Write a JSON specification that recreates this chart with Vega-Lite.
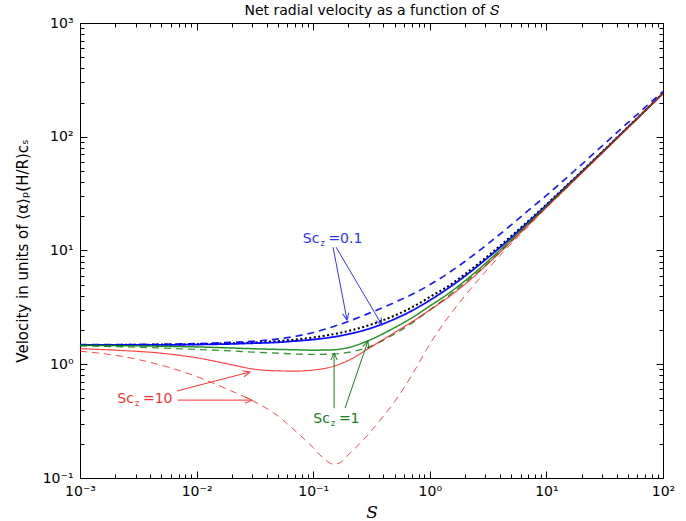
{
  "$schema": "https://vega.github.io/schema/vega-lite/v6.json",
  "width": 583,
  "height": 455,
  "autosize": "none",
  "padding": {"left": 80, "top": 23, "right": 23, "bottom": 43},
  "background": "white",
  "config": {
    "view": {"stroke": null},
    "font": "DejaVu Sans",
    "axis": {"grid": false, "domainColor": "black", "tickColor": "black", "labelColor": "black", "labelFont": "DejaVu Sans", "labelFontSize": 13, "titleColor": "black"}
  },
  "title": {"text": "Net radial velocity as a function of 𝑆", "fontSize": 14, "fontWeight": "normal", "font": "DejaVu Sans", "offset": -2, "color": "black"},
  "resolve": {"scale": {"color": "independent"}},
  "datasets": {
    "curves": [
      {"series": "ref", "S": 0.001, "v": 1.48}, {"series": "ref", "S": 0.002, "v": 1.48}, {"series": "ref", "S": 0.005, "v": 1.49}, {"series": "ref", "S": 0.01, "v": 1.5}, {"series": "ref", "S": 0.02, "v": 1.53}, {"series": "ref", "S": 0.03, "v": 1.55}, {"series": "ref", "S": 0.05, "v": 1.6}, {"series": "ref", "S": 0.07, "v": 1.65}, {"series": "ref", "S": 0.1, "v": 1.72}, {"series": "ref", "S": 0.15, "v": 1.84}, {"series": "ref", "S": 0.2, "v": 1.96}, {"series": "ref", "S": 0.3, "v": 2.2}, {"series": "ref", "S": 0.5, "v": 2.68}, {"series": "ref", "S": 0.7, "v": 3.16}, {"series": "ref", "S": 1, "v": 3.9}, {"series": "ref", "S": 1.5, "v": 5.0}, {"series": "ref", "S": 2, "v": 6.2}, {"series": "ref", "S": 3, "v": 8.6}, {"series": "ref", "S": 5, "v": 13.4}, {"series": "ref", "S": 7, "v": 18.2}, {"series": "ref", "S": 10, "v": 25.4}, {"series": "ref", "S": 20, "v": 49.5}, {"series": "ref", "S": 50, "v": 121.5}, {"series": "ref", "S": 100, "v": 241.5},
      {"series": "b_solid", "S": 0.001, "v": 1.48}, {"series": "b_solid", "S": 0.002, "v": 1.48}, {"series": "b_solid", "S": 0.005, "v": 1.48}, {"series": "b_solid", "S": 0.01, "v": 1.49}, {"series": "b_solid", "S": 0.02, "v": 1.51}, {"series": "b_solid", "S": 0.03, "v": 1.53}, {"series": "b_solid", "S": 0.05, "v": 1.56}, {"series": "b_solid", "S": 0.07, "v": 1.6}, {"series": "b_solid", "S": 0.1, "v": 1.65}, {"series": "b_solid", "S": 0.15, "v": 1.74}, {"series": "b_solid", "S": 0.2, "v": 1.84}, {"series": "b_solid", "S": 0.3, "v": 2.05}, {"series": "b_solid", "S": 0.5, "v": 2.5}, {"series": "b_solid", "S": 0.7, "v": 2.95}, {"series": "b_solid", "S": 1, "v": 3.65}, {"series": "b_solid", "S": 1.5, "v": 4.8}, {"series": "b_solid", "S": 2, "v": 5.95}, {"series": "b_solid", "S": 3, "v": 8.3}, {"series": "b_solid", "S": 5, "v": 13.0}, {"series": "b_solid", "S": 7, "v": 17.8}, {"series": "b_solid", "S": 10, "v": 25.0}, {"series": "b_solid", "S": 20, "v": 49.0}, {"series": "b_solid", "S": 50, "v": 121}, {"series": "b_solid", "S": 100, "v": 241},
      {"series": "b_dash", "S": 0.001, "v": 1.49}, {"series": "b_dash", "S": 0.002, "v": 1.49}, {"series": "b_dash", "S": 0.005, "v": 1.5}, {"series": "b_dash", "S": 0.01, "v": 1.52}, {"series": "b_dash", "S": 0.02, "v": 1.56}, {"series": "b_dash", "S": 0.03, "v": 1.59}, {"series": "b_dash", "S": 0.05, "v": 1.67}, {"series": "b_dash", "S": 0.07, "v": 1.76}, {"series": "b_dash", "S": 0.1, "v": 1.9}, {"series": "b_dash", "S": 0.15, "v": 2.15}, {"series": "b_dash", "S": 0.2, "v": 2.38}, {"series": "b_dash", "S": 0.3, "v": 2.8}, {"series": "b_dash", "S": 0.5, "v": 3.5}, {"series": "b_dash", "S": 0.7, "v": 4.1}, {"series": "b_dash", "S": 1, "v": 5.0}, {"series": "b_dash", "S": 1.5, "v": 6.5}, {"series": "b_dash", "S": 2, "v": 8.0}, {"series": "b_dash", "S": 3, "v": 11.0}, {"series": "b_dash", "S": 5, "v": 16.8}, {"series": "b_dash", "S": 7, "v": 22.5}, {"series": "b_dash", "S": 10, "v": 30.5}, {"series": "b_dash", "S": 20, "v": 57}, {"series": "b_dash", "S": 50, "v": 133}, {"series": "b_dash", "S": 100, "v": 250},
      {"series": "g_solid", "S": 0.001, "v": 1.47}, {"series": "g_solid", "S": 0.002, "v": 1.46}, {"series": "g_solid", "S": 0.005, "v": 1.44}, {"series": "g_solid", "S": 0.01, "v": 1.42}, {"series": "g_solid", "S": 0.02, "v": 1.39}, {"series": "g_solid", "S": 0.03, "v": 1.37}, {"series": "g_solid", "S": 0.05, "v": 1.35}, {"series": "g_solid", "S": 0.07, "v": 1.34}, {"series": "g_solid", "S": 0.1, "v": 1.33}, {"series": "g_solid", "S": 0.15, "v": 1.34}, {"series": "g_solid", "S": 0.2, "v": 1.4}, {"series": "g_solid", "S": 0.3, "v": 1.62}, {"series": "g_solid", "S": 0.5, "v": 2.1}, {"series": "g_solid", "S": 0.7, "v": 2.55}, {"series": "g_solid", "S": 1, "v": 3.25}, {"series": "g_solid", "S": 1.5, "v": 4.3}, {"series": "g_solid", "S": 2, "v": 5.4}, {"series": "g_solid", "S": 3, "v": 7.7}, {"series": "g_solid", "S": 5, "v": 12.5}, {"series": "g_solid", "S": 7, "v": 17.3}, {"series": "g_solid", "S": 10, "v": 24.5}, {"series": "g_solid", "S": 20, "v": 48.5}, {"series": "g_solid", "S": 50, "v": 120.5}, {"series": "g_solid", "S": 100, "v": 240},
      {"series": "g_dash", "S": 0.001, "v": 1.45}, {"series": "g_dash", "S": 0.002, "v": 1.43}, {"series": "g_dash", "S": 0.005, "v": 1.39}, {"series": "g_dash", "S": 0.01, "v": 1.35}, {"series": "g_dash", "S": 0.02, "v": 1.31}, {"series": "g_dash", "S": 0.03, "v": 1.28}, {"series": "g_dash", "S": 0.05, "v": 1.25}, {"series": "g_dash", "S": 0.07, "v": 1.23}, {"series": "g_dash", "S": 0.1, "v": 1.22}, {"series": "g_dash", "S": 0.15, "v": 1.23}, {"series": "g_dash", "S": 0.2, "v": 1.27}, {"series": "g_dash", "S": 0.3, "v": 1.42}, {"series": "g_dash", "S": 0.5, "v": 1.85}, {"series": "g_dash", "S": 0.7, "v": 2.3}, {"series": "g_dash", "S": 1, "v": 3.0}, {"series": "g_dash", "S": 1.5, "v": 4.1}, {"series": "g_dash", "S": 2, "v": 5.2}, {"series": "g_dash", "S": 3, "v": 7.4}, {"series": "g_dash", "S": 5, "v": 12.1}, {"series": "g_dash", "S": 7, "v": 16.9}, {"series": "g_dash", "S": 10, "v": 24.0}, {"series": "g_dash", "S": 20, "v": 48}, {"series": "g_dash", "S": 50, "v": 120}, {"series": "g_dash", "S": 100, "v": 240},
      {"series": "r_solid", "S": 0.001, "v": 1.37}, {"series": "r_solid", "S": 0.002, "v": 1.33}, {"series": "r_solid", "S": 0.005, "v": 1.25}, {"series": "r_solid", "S": 0.01, "v": 1.14}, {"series": "r_solid", "S": 0.02, "v": 0.99}, {"series": "r_solid", "S": 0.03, "v": 0.91}, {"series": "r_solid", "S": 0.05, "v": 0.875}, {"series": "r_solid", "S": 0.07, "v": 0.87}, {"series": "r_solid", "S": 0.1, "v": 0.89}, {"series": "r_solid", "S": 0.15, "v": 0.96}, {"series": "r_solid", "S": 0.2, "v": 1.08}, {"series": "r_solid", "S": 0.3, "v": 1.38}, {"series": "r_solid", "S": 0.5, "v": 1.9}, {"series": "r_solid", "S": 0.7, "v": 2.35}, {"series": "r_solid", "S": 1, "v": 3.0}, {"series": "r_solid", "S": 1.5, "v": 4.0}, {"series": "r_solid", "S": 2, "v": 5.05}, {"series": "r_solid", "S": 3, "v": 7.3}, {"series": "r_solid", "S": 5, "v": 12.0}, {"series": "r_solid", "S": 7, "v": 16.8}, {"series": "r_solid", "S": 10, "v": 24.0}, {"series": "r_solid", "S": 20, "v": 48}, {"series": "r_solid", "S": 50, "v": 120}, {"series": "r_solid", "S": 100, "v": 240},
      {"series": "r_dash", "S": 0.001, "v": 1.3}, {"series": "r_dash", "S": 0.002, "v": 1.2}, {"series": "r_dash", "S": 0.005, "v": 0.98}, {"series": "r_dash", "S": 0.01, "v": 0.78}, {"series": "r_dash", "S": 0.02, "v": 0.58}, {"series": "r_dash", "S": 0.03, "v": 0.48}, {"series": "r_dash", "S": 0.05, "v": 0.35}, {"series": "r_dash", "S": 0.07, "v": 0.26}, {"series": "r_dash", "S": 0.1, "v": 0.185}, {"series": "r_dash", "S": 0.12, "v": 0.152}, {"series": "r_dash", "S": 0.15, "v": 0.132}, {"series": "r_dash", "S": 0.17, "v": 0.136}, {"series": "r_dash", "S": 0.2, "v": 0.16}, {"series": "r_dash", "S": 0.25, "v": 0.2}, {"series": "r_dash", "S": 0.3, "v": 0.245}, {"series": "r_dash", "S": 0.4, "v": 0.35}, {"series": "r_dash", "S": 0.5, "v": 0.47}, {"series": "r_dash", "S": 0.7, "v": 0.8}, {"series": "r_dash", "S": 1, "v": 1.5}, {"series": "r_dash", "S": 1.5, "v": 2.75}, {"series": "r_dash", "S": 2, "v": 4.0}, {"series": "r_dash", "S": 3, "v": 6.5}, {"series": "r_dash", "S": 5, "v": 11.5}, {"series": "r_dash", "S": 7, "v": 16.3}, {"series": "r_dash", "S": 10, "v": 23.8}, {"series": "r_dash", "S": 20, "v": 47.5}, {"series": "r_dash", "S": 50, "v": 119}, {"series": "r_dash", "S": 100, "v": 239}
    ],
    "arrows": [
      {"group": "0.1", "x1": 0.148, "y1": 10.7, "x2": 0.195, "y2": 2.45},
      {"group": "0.1", "x1": 0.157, "y1": 10.7, "x2": 0.389, "y2": 2.21},
      {"group": "1", "x1": 0.151, "y1": 0.412, "x2": 0.151, "y2": 1.256},
      {"group": "1", "x1": 0.1875, "y1": 0.412, "x2": 0.295, "y2": 1.6},
      {"group": "10", "x1": 0.00679, "y1": 0.582, "x2": 0.0287, "y2": 0.855},
      {"group": "10", "x1": 0.00692, "y1": 0.484, "x2": 0.0299, "y2": 0.484}
    ],
    "labels": [
      {"group": "0.1", "S": 0.113, "v": 12.6, "val": "=0.1"},
      {"group": "1", "S": 0.139, "v": 0.33, "val": "=1"},
      {"group": "10", "S": 0.0029, "v": 0.494, "val": "=10"}
    ]
  },
  "layer": [
    {
      "data": {"name": "curves"},
      "mark": {"type": "line", "interpolate": "monotone", "clip": true},
      "encoding": {
        "x": {
          "field": "S", "type": "quantitative",
          "scale": {"type": "log", "domain": [0.001, 100], "nice": false},
          "axis": {
            "orient": "bottom",
            "values": [0.001,0.002,0.003,0.004,0.005,0.006,0.007,0.008,0.009,0.01,0.02,0.03,0.04,0.05,0.06,0.07,0.08,0.09,0.1,0.2,0.3,0.4,0.5,0.6,0.7,0.8,0.9,1,2,3,4,5,6,7,8,9,10,20,30,40,50,60,70,80,90,100],
            "labelExpr": "datum.value==0.001?'10⁻³':datum.value==0.01?'10⁻²':datum.value==0.1?'10⁻¹':datum.value==1?'10⁰':datum.value==10?'10¹':datum.value==100?'10²':''",
            "tickSize": {"condition": {"test": "abs(log(datum.value)/LN10 - round(log(datum.value)/LN10)) < 0.001", "value": -7}, "value": -4},
            "labelFlush": false, "labelOverlap": false, "labelPadding": 13, "labelFontSize": 14,
            "title": "S", "titleFont": "DejaVu Serif", "titleFontStyle": "italic", "titleFontWeight": "normal", "titleFontSize": 17, "titlePadding": 3
          }
        },
        "y": {
          "field": "v", "type": "quantitative",
          "scale": {"type": "log", "domain": [0.1, 1000], "nice": false},
          "axis": {
            "orient": "left",
            "values": [0.1,0.2,0.3,0.4,0.5,0.6,0.7,0.8,0.9,1,2,3,4,5,6,7,8,9,10,20,30,40,50,60,70,80,90,100,200,300,400,500,600,700,800,900,1000],
            "labelExpr": "datum.value==0.1?'10⁻¹':datum.value==1?'10⁰':datum.value==10?'10¹':datum.value==100?'10²':datum.value==1000?'10³':''",
            "tickSize": {"condition": {"test": "abs(log(datum.value)/LN10 - round(log(datum.value)/LN10)) < 0.001", "value": -7}, "value": -4},
            "labelFlush": false, "labelOverlap": false, "labelPadding": 14, "labelFontSize": 14,
            "title": "Velocity in units of ⟨α⟩ₚ(H/R)cₛ", "titleFont": "DejaVu Sans", "titleFontWeight": "normal", "titleFontSize": 15, "titlePadding": 12
          }
        },
        "color": {"field": "series", "type": "nominal", "legend": null,
          "scale": {"domain": ["ref","b_solid","b_dash","g_solid","g_dash","r_solid","r_dash"], "range": ["#000000","#0000ff","#0000ff","#008000","#008000","#ff0000","#ff0000"]}},
        "strokeDash": {"field": "series", "type": "nominal", "legend": null,
          "scale": {"domain": ["ref","b_solid","b_dash","g_solid","g_dash","r_solid","r_dash"], "range": [[2,2.5],[1,0],[7,5],[1,0],[7,5],[1,0],[7,5]]}},
        "strokeWidth": {"field": "series", "type": "nominal", "legend": null,
          "scale": {"domain": ["ref","b_solid","b_dash","g_solid","g_dash","r_solid","r_dash"], "range": [2,1,1.2,1,1.2,1,1.4]}},
        "opacity": {"field": "series", "type": "nominal", "legend": null,
          "scale": {"domain": ["ref","b_solid","b_dash","g_solid","g_dash","r_solid","r_dash"], "range": [1,0.7,0.7,0.75,0.6,0.8,0.85]}}
      }
    },
    {
      "data": {"name": "arrows"},
      "mark": {"type": "rule", "strokeWidth": 1},
      "encoding": {
        "x": {"field": "x1", "type": "quantitative",
          "axis": {
            "orient": "top", "labels": false, "title": null,
            "values": [0.001,0.002,0.003,0.004,0.005,0.006,0.007,0.008,0.009,0.01,0.02,0.03,0.04,0.05,0.06,0.07,0.08,0.09,0.1,0.2,0.3,0.4,0.5,0.6,0.7,0.8,0.9,1,2,3,4,5,6,7,8,9,10,20,30,40,50,60,70,80,90,100],
            "tickSize": {"condition": {"test": "abs(log(datum.value)/LN10 - round(log(datum.value)/LN10)) < 0.001", "value": -7}, "value": -4}
          }},
        "x2": {"field": "x2"},
        "y": {"field": "y1", "type": "quantitative",
          "axis": {
            "orient": "right", "labels": false, "title": null,
            "values": [0.1,0.2,0.3,0.4,0.5,0.6,0.7,0.8,0.9,1,2,3,4,5,6,7,8,9,10,20,30,40,50,60,70,80,90,100,200,300,400,500,600,700,800,900,1000],
            "tickSize": {"condition": {"test": "abs(log(datum.value)/LN10 - round(log(datum.value)/LN10)) < 0.001", "value": -7}, "value": -4}
          }},
        "y2": {"field": "y2"},
        "color": {"field": "group", "type": "nominal", "legend": null,
          "scale": {"domain": ["0.1","1","10"], "range": ["#3333ff","#1a801a","#ff3333"]}}
      }
    },
    {
      "data": {"name": "arrows"},
      "transform": [
        {"calculate": "atan2(-(log(datum.y2)-log(datum.y1))/LN10*113.75, (log(datum.x2)-log(datum.x1))/LN10*116.6)*180/PI", "as": "ang"}
      ],
      "mark": {"type": "point", "shape": "M-1,-0.45L0,0L-1,0.45", "filled": false, "size": 196, "strokeWidth": 1, "opacity": 1},
      "encoding": {
        "x": {"field": "x2", "type": "quantitative", "axis": null},
        "y": {"field": "y2", "type": "quantitative", "axis": null},
        "angle": {"field": "ang", "type": "quantitative", "scale": null},
        "color": {"field": "group", "type": "nominal", "legend": null,
          "scale": {"domain": ["0.1","1","10"], "range": ["#3333ff","#1a801a","#ff3333"]}}
      }
    },
    {
      "data": {"name": "labels"},
      "mark": {"type": "text", "text": "Sc", "align": "right", "baseline": "middle", "fontSize": 14, "font": "DejaVu Sans"},
      "encoding": {
        "x": {"field": "S", "type": "quantitative", "axis": null},
        "y": {"field": "v", "type": "quantitative", "axis": null},
        "color": {"field": "group", "type": "nominal", "legend": null,
          "scale": {"domain": ["0.1","1","10"], "range": ["#3333ff","#1a801a","#ff3333"]}}
      }
    },
    {
      "data": {"name": "labels"},
      "mark": {"type": "text", "text": "z", "align": "left", "baseline": "middle", "fontSize": 8, "dx": 1, "dy": 5, "font": "DejaVu Sans"},
      "encoding": {
        "x": {"field": "S", "type": "quantitative", "axis": null},
        "y": {"field": "v", "type": "quantitative", "axis": null},
        "color": {"field": "group", "type": "nominal", "legend": null,
          "scale": {"domain": ["0.1","1","10"], "range": ["#3333ff","#1a801a","#ff3333"]}}
      }
    },
    {
      "data": {"name": "labels"},
      "mark": {"type": "text", "align": "left", "baseline": "middle", "fontSize": 14, "dx": 9, "font": "DejaVu Sans"},
      "encoding": {
        "x": {"field": "S", "type": "quantitative", "axis": null},
        "y": {"field": "v", "type": "quantitative", "axis": null},
        "text": {"field": "val"},
        "color": {"field": "group", "type": "nominal", "legend": null,
          "scale": {"domain": ["0.1","1","10"], "range": ["#3333ff","#1a801a","#ff3333"]}}
      }
    }
  ]
}
